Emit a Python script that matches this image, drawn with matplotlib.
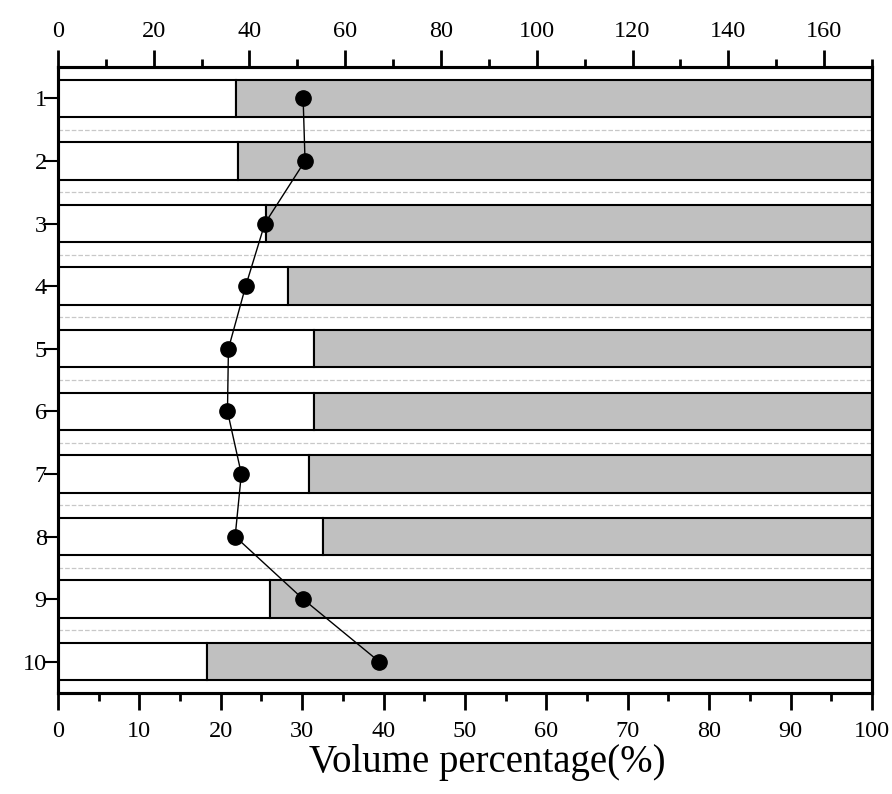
import numpy as np
import matplotlib
matplotlib.use('Agg')
import matplotlib.pyplot as plt

plt.rcParams['font.family'] = ['Liberation Serif', 'DejaVu Serif']

samples = ['1', '2', '3', '4', '5', '6', '7', '8', '9', '10']
white_part = [21.9, 22.1, 25.5, 28.25, 31.5, 31.5, 30.9, 32.6, 26.0, 18.3]
gray_part = [100 - v for v in white_part]
# dot series read against the top axis (0-170)
dot_values = [51.2, 51.6, 43.2, 39.2, 35.6, 35.4, 38.3, 37.0, 51.2, 67.1]

y = np.arange(1, len(samples) + 1)

fig = plt.figure(figsize=(8.92, 7.94), dpi=100)
ax = fig.add_axes([0.065, 0.1272, 0.9125, 0.7884])

ax.barh(y, white_part, height=0.6, color='white', edgecolor='black', linewidth=1.5, zorder=2)
ax.barh(y, gray_part, left=white_part, height=0.6, color='#c0c0c0', edgecolor='black', linewidth=1.5, zorder=2)

ax.set_xlim(0, 100)
ax.set_ylim(10.5, 0.5)
ax.set_yticks(y)
ax.set_yticklabels(samples)
ax.set_yticks(np.arange(1.5, 10.5, 1), minor=True)
ax.grid(True, which='minor', axis='y', color='#c8c8c8', linestyle='--', linewidth=0.9, zorder=0)
ax.set_xticks(np.arange(0, 101, 10))
ax.set_xticks(np.arange(5, 100, 10), minor=True)
ax.tick_params(axis='x', which='major', direction='out', length=12, width=2, labelsize=17.5, pad=8)
ax.tick_params(axis='x', which='minor', direction='out', length=6, width=2)
ax.tick_params(axis='y', which='major', direction='out', length=10, width=1.5, labelsize=17.5, pad=-2)
ax.tick_params(axis='y', which='minor', length=0)
ax.set_xlabel('Volume percentage(%)', fontsize=28)
ax.xaxis.set_label_coords(0.527, -0.082)
for s in ax.spines.values():
    s.set_linewidth(2.2)

ax2 = ax.twiny()
ax2.plot(dot_values, y, color='black', linewidth=1, marker='o', markersize=11, zorder=5)
ax2.set_xlim(0, 170)
ax2.set_xticks(np.arange(0, 161, 20))
ax2.set_xticks(np.arange(10, 171, 20), minor=True)
ax2.tick_params(axis='x', which='major', direction='out', length=12, width=2, labelsize=17.5, pad=6)
ax2.tick_params(axis='x', which='minor', direction='out', length=6, width=2)
for s in ax2.spines.values():
    s.set_linewidth(2.2)

fig.savefig('out.png', dpi=100)
